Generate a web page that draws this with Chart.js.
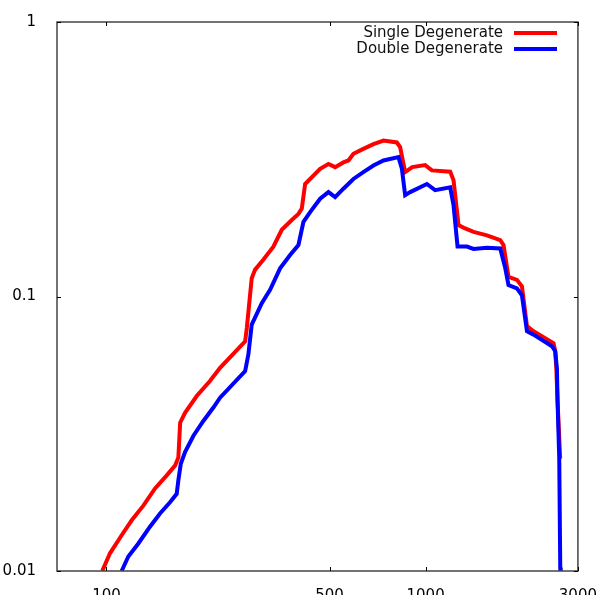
<!DOCTYPE html>
<html>
<head>
<meta charset="utf-8">
<script src="https://cdn.jsdelivr.net/npm/chart.js@4.4.0/dist/chart.umd.min.js"></script>
<style>
html, body { margin: 0; padding: 0; background: #fff; }
#wrap { width: 605px; height: 595px; }
</style>
</head>
<body>
<div id="wrap"><canvas id="chart"></canvas></div>
<script>
// Single Degenerate (red)
const singleX = [97, 102.6, 111.6, 120, 130.5, 142, 154.5, 164, 168, 170.2, 176.3, 191.8, 211, 227, 272, 275.3,
    285.2, 292.3, 310, 333.4, 354.3, 380.8, 399.5, 409.3, 419.3, 467.2, 496.1, 520.6, 552.6, 573, 594, 638,
    686.4, 737.8, 812.5, 832, 862.7, 907.7, 996.8, 1046, 1194, 1223, 1268, 1330, 1413, 1556, 1713, 1754,
    1818, 1932, 2003, 2077, 2178, 2517, 2547, 2567, 2590, 2640];
const singleY = [0.0100, 0.0116, 0.0135, 0.0153, 0.0173, 0.0200, 0.0223, 0.0242, 0.0259, 0.0347, 0.0377, 0.0434,
    0.0492, 0.0550, 0.0687, 0.0768, 0.1165, 0.1253, 0.1362, 0.1518, 0.175, 0.190, 0.200, 0.209, 0.257, 0.292,
    0.304, 0.296, 0.308, 0.313, 0.331, 0.345, 0.359, 0.370, 0.364, 0.350, 0.284, 0.296, 0.301, 0.288, 0.285,
    0.265, 0.182, 0.177, 0.172, 0.167, 0.1605, 0.154, 0.118, 0.115, 0.109, 0.078, 0.0747, 0.0676, 0.0632,
    0.0548, 0.0417, 0.0257];

// Double Degenerate (blue)
const doubleX = [111.6, 117.1, 125.9, 136.9, 147.2, 158.2, 166, 168, 171, 176.3, 187.3, 201.2, 216.3, 227, 272,
    278.4, 285.2, 306.7, 325.6, 350, 376.2, 399.5, 414.2, 434.7, 467.2, 496.1, 520.6, 552.6, 594, 638, 686.4,
    737.8, 822, 842.6, 862.7, 894.6, 1009, 1071, 1194, 1223, 1259, 1347, 1413, 1556, 1713, 1776, 1818, 1932,
    2003, 2077, 2178, 2488, 2547, 2579, 2590, 2622, 2641, 2650];
const doubleY = [0.0100, 0.0113, 0.0126, 0.0145, 0.0162, 0.0178, 0.0191, 0.0214, 0.0246, 0.0271, 0.0311, 0.0352,
    0.0394, 0.0428, 0.0535, 0.0615, 0.0790, 0.0946, 0.1057, 0.1266, 0.1416, 0.154, 0.187, 0.203, 0.227, 0.240,
    0.230, 0.247, 0.268, 0.284, 0.300, 0.313, 0.322, 0.292, 0.234, 0.240, 0.257, 0.244, 0.250, 0.215, 0.152,
    0.152, 0.149, 0.1505, 0.1496, 0.127, 0.110, 0.107, 0.101, 0.0747, 0.0726, 0.0659, 0.0632, 0.0544, 0.0417,
    0.0257, 0.0103, 0.0095];

const xTicks = [100, 500, 1000, 3000];
const yTicks = [0.01, 0.1, 1];

const FONT = { family: 'DejaVu Sans', size: 15 };

function pairs(xs, ys) {
    return xs.map((x, i) => ({ x: x, y: ys[i] }));
}

// frame + inward mirror ticks
const framePlugin = {
    id: 'frame',
    afterDatasetsDraw(chart) {
        const { ctx, chartArea: a, scales: { x, y } } = chart;
        ctx.save();
        ctx.strokeStyle = '#444';
        ctx.lineWidth = 1.5;
        ctx.strokeRect(a.left, a.top, a.right - a.left, a.bottom - a.top);
        ctx.strokeStyle = '#000';
        ctx.lineWidth = 1;
        ctx.beginPath();
        xTicks.forEach(v => {
            const px = Math.round(x.getPixelForValue(v)) + 0.5;
            ctx.moveTo(px, a.bottom); ctx.lineTo(px, a.bottom - 4);
            ctx.moveTo(px, a.top); ctx.lineTo(px, a.top + 4);
        });
        yTicks.forEach(v => {
            const py = Math.round(y.getPixelForValue(v)) + 0.5;
            ctx.moveTo(a.left, py); ctx.lineTo(a.left + 4, py);
            ctx.moveTo(a.right, py); ctx.lineTo(a.right - 4, py);
        });
        ctx.stroke();
        ctx.restore();
    }
};

// gnuplot style key: text right aligned, sample line after it
const keyPlugin = {
    id: 'key',
    afterDraw(chart) {
        const ctx = chart.ctx;
        ctx.save();
        ctx.font = FONT.size + 'px "' + FONT.family + '"';
        ctx.textAlign = 'right';
        ctx.textBaseline = 'middle';
        chart.data.datasets.forEach((ds, i) => {
            const yy = 33 + i * 16;
            ctx.fillStyle = '#111';
            ctx.fillText(ds.label, 503, yy);
            ctx.strokeStyle = ds.borderColor;
            ctx.lineWidth = 4;
            ctx.beginPath();
            ctx.moveTo(514, yy);
            ctx.lineTo(557, yy);
            ctx.stroke();
        });
        ctx.restore();
    }
};

new Chart(document.getElementById('chart'), {
    type: 'line',
    data: {
        datasets: [{
            label: 'Single Degenerate',
            data: pairs(singleX, singleY),
            borderColor: '#ff0000',
            borderWidth: 4,
            pointRadius: 0,
            tension: 0,
            order: 1
        }, {
            label: 'Double Degenerate',
            data: pairs(doubleX, doubleY),
            borderColor: '#0000ff',
            borderWidth: 4,
            pointRadius: 0,
            tension: 0,
            order: 0
        }]
    },
    options: {
        responsive: true,
        maintainAspectRatio: false,
        animation: false,
        layout: { padding: { top: 19, right: 27, left: 0, bottom: 0 } },
        plugins: {
            legend: { display: false },
            tooltip: { enabled: false }
        },
        scales: {
            x: {
                type: 'logarithmic',
                min: 70,
                max: 3000,
                afterBuildTicks: s => { s.ticks = xTicks.map(v => ({ value: v })); },
                afterFit: s => { s.height = 24; },
                grid: { display: false },
                border: { display: false },
                ticks: {
                    callback: v => String(v),
                    font: FONT,
                    color: '#000',
                    padding: 8,
                    maxRotation: 0,
                    autoSkip: false
                }
            },
            y: {
                type: 'logarithmic',
                min: 0.01,
                max: 1,
                afterBuildTicks: s => { s.ticks = yTicks.map(v => ({ value: v })); },
                afterFit: s => { s.width = 57; },
                grid: { display: false },
                border: { display: false },
                ticks: {
                    callback: v => String(v),
                    font: FONT,
                    color: '#000',
                    padding: 13,
                    autoSkip: false
                }
            }
        }
    },
    plugins: [framePlugin, keyPlugin]
});
</script>
</body>
</html>
